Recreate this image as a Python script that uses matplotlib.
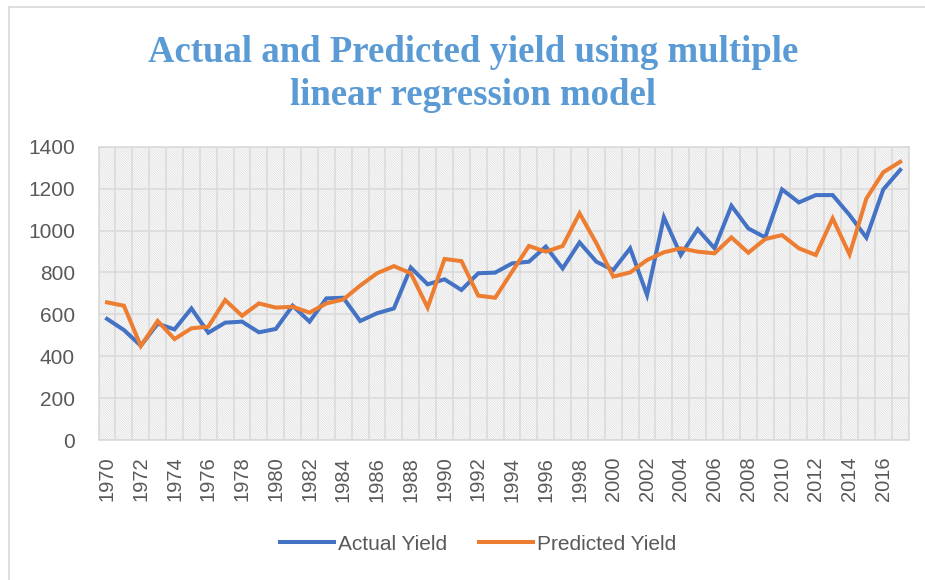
import numpy as np
import matplotlib
matplotlib.use("Agg")
import matplotlib.pyplot as plt
from matplotlib.patches import Rectangle
from matplotlib.lines import Line2D

# years on the category axis
years = list(range(1970, 2018))

# values
actual_yield = [578, 525, 450, 555, 528, 628, 512, 560, 565, 514, 530, 641,
                565, 676, 679, 568, 605, 628, 823, 743, 767, 716, 796, 799,
                843, 851, 923, 819, 943, 851, 811, 915, 692, 1063, 883, 1006,
                915, 1118, 1010, 967, 1196, 1134, 1169, 1169, 1074, 966, 1196, 1289]
predicted_yield = [657, 641, 449, 568, 482, 533, 541, 668, 593, 652, 632, 636,
                   608, 652, 671, 737, 796, 830, 796, 632, 864, 854, 689, 679,
                   803, 926, 899, 926, 1082, 939, 780, 800, 859, 896, 915, 899,
                   891, 967, 894, 959, 978, 915, 883, 1058, 886, 1153, 1278, 1328]

blue = "#4472C4"
orange = "#ED7D31"
grid_col = "#d9d9d9"
text_col = "#595959"

plt.rcParams["hatch.linewidth"] = 0.6

fig = plt.figure(figsize=(9.25, 5.8), dpi=100)
W, H = 925, 580

# plot area in pixels
left, right, top, bottom = 98.6, 908.6, 146.7, 440
ax = fig.add_axes([left / W, 1 - bottom / H, (right - left) / W, (bottom - top) / H])

x = np.arange(len(years))

# hatched plot area background
ax.add_patch(Rectangle((0, 0), 1, 1, transform=ax.transAxes, facecolor="white",
                       edgecolor="#e0e0e0", linewidth=0, hatch="\\" * 14, zorder=0))

ax.plot(x, actual_yield, color=blue, lw=2.9, label="Actual Yield", zorder=3,
        solid_joinstyle="miter")
ax.plot(x, predicted_yield, color=orange, lw=2.9, label="Predicted Yield", zorder=3,
        solid_joinstyle="miter")

ax.set_xlim(-0.5, len(years) - 0.5)
ax.set_ylim(0, 1400)
ax.set_yticks(range(0, 1401, 200))
ax.set_xticks(x[::2])
ax.set_xticklabels([str(y) for y in years[::2]], rotation=90)
ax.set_xticks(np.arange(-0.5, len(years), 1), minor=True)

ax.grid(axis="y", which="major", color=grid_col, lw=1.1, zorder=1)
ax.grid(axis="x", which="minor", color=grid_col, lw=1.1, zorder=1)
ax.grid(axis="x", which="major", visible=False)
ax.set_axisbelow(True)

ax.tick_params(axis="both", which="both", length=0)
ax.tick_params(axis="y", pad=17, labelsize=15, labelcolor=text_col)
ax.tick_params(axis="x", pad=12, labelsize=14.5, labelcolor=text_col)
for lab in ax.get_yticklabels() + ax.get_xticklabels():
    lab.set_fontfamily("Liberation Sans")

for s in ax.spines.values():
    s.set_color(grid_col)
    s.set_linewidth(1.1)

# title
fig.text(473 / W, 1 - 74 / H, "Actual and Predicted yield using multiple\nlinear regression model",
         ha="center", va="center", fontsize=26.5, fontweight="bold", color="#5B9BD5",
         family="Liberation Serif", linespacing=1.28)

# legend
fig.legend(loc="center", bbox_to_anchor=(478 / W, 1 - 544 / H), ncol=2, frameon=False,
           prop={"family": "Liberation Sans", "size": 15}, labelcolor=text_col,
           handlelength=2.6, handletextpad=0.2, columnspacing=1.5)

# outer chart border (top and left edges visible in the reference)
fig.add_artist(Line2D([9 / W, 9 / W], [0, 1 - 7 / H], transform=fig.transFigure,
                      color=grid_col, lw=1.2))
fig.add_artist(Line2D([9 / W, 1], [1 - 7 / H, 1 - 7 / H], transform=fig.transFigure,
                      color=grid_col, lw=1.2))

fig.savefig("out.png", dpi=100)
